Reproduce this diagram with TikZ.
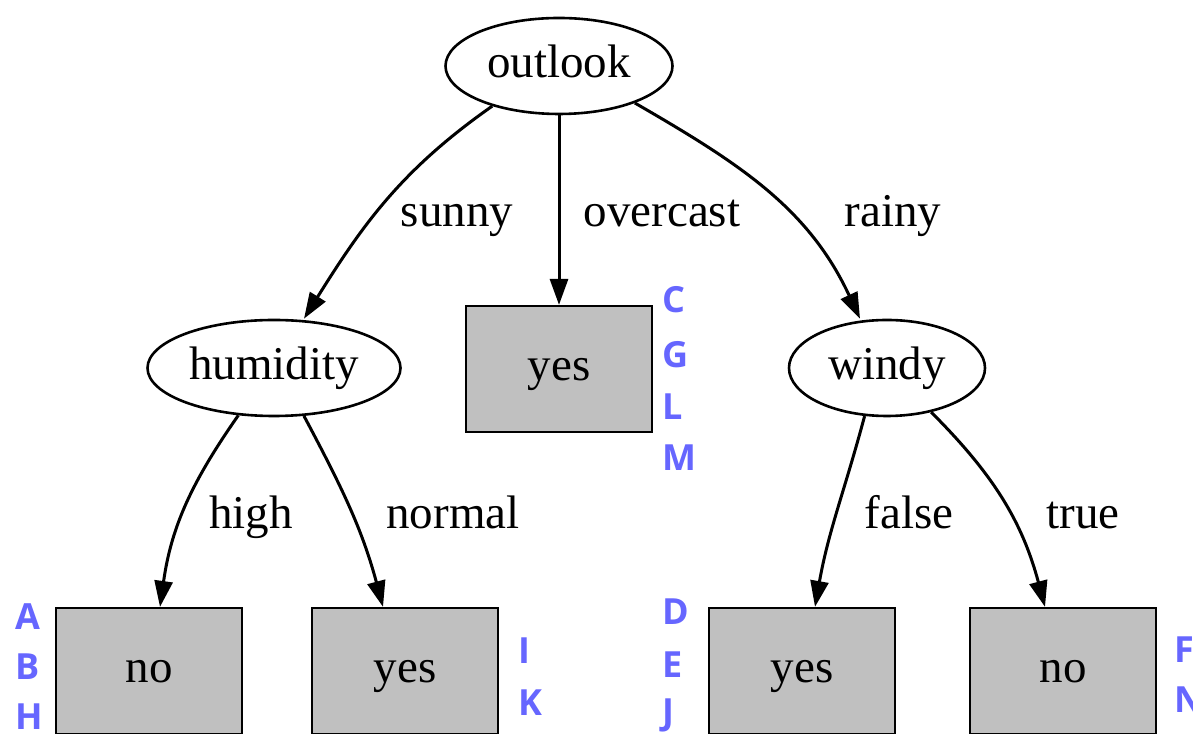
\documentclass[tikz,border=0pt]{standalone}
\usepackage{fontspec}
\setmainfont{Liberation Serif}
\newfontfamily\letterfont{Open Sans}
\usetikzlibrary{arrows.meta,shapes.geometric}
\definecolor{leafgray}{RGB}{192,192,192}
\definecolor{rowblue}{RGB}{102,102,255}

\begin{document}
\begin{tikzpicture}[
  x=0.5pt,
  y=0.5pt,
  >={Triangle[length=13pt,width=9pt]},
  every node/.style={font=\fontsize{23.5}{28}\selectfont},
  word/.style={text height=12pt, text depth=0pt},
  attr/.style={draw, ellipse, word, line width=1.3pt, inner sep=0pt, minimum height=48pt},
  leaf/.style={draw, rectangle, word, fill=leafgray, line width=1.1pt, minimum width=93pt, minimum height=63pt},
  branch/.style={->, line width=1.5pt},
  rows/.style={anchor=west, text=rowblue, font=\letterfont\bfseries\fontsize{18}{20}\selectfont}
]
\useasboundingbox (0,0) rectangle (1193,733);

\node[attr, minimum width=113.5pt] (outlook) at (559,667) {outlook};
\node[attr, minimum width=126.5pt] (humidity) at (274,365) {humidity};
\node[attr, minimum width=98pt] (windy) at (887,365) {windy};
\node[leaf] (overcastyes) at (559,364) {yes};
\node[leaf] (highno) at (149,62) {no};
\node[leaf] (normalyes) at (405,62) {yes};
\node[leaf] (falseyes) at (802,62) {yes};
\node[leaf] (trueno) at (1063,62) {no};

\draw[branch] (outlook.-149) to[out=215, in=58] ([xshift=15pt]humidity.north);
\draw[branch] (outlook.south) -- (overcastyes.north);
\draw[branch] (outlook.-26) to[out=-30, in=115] ([xshift=-13.5pt]windy.north);
\draw[branch] (humidity.-127) to[out=-125, in=82] ([xshift=5.5pt]highno.north);
\draw[branch] (humidity.-58) to[out=-62, in=105] ([xshift=-11pt]normalyes.north);
\draw[branch] (windy.-115) to[out=-105, in=80] ([xshift=6.5pt]falseyes.north);
\draw[branch] (windy.-45) to[out=-45, in=105] ([xshift=-9pt]trueno.north);

\node[word] (sunny) at (457,518) {sunny};
\node[word] (overcast) at (662,518) {overcast};
\node[word] (rainy) at (893,518) {rainy};
\node[word] (high) at (251,216) {high};
\node[word] (normal) at (453,216) {normal};
\node[word] (false) at (909,216) {false};
\node[word] (true) at (1083,216) {true};

\node[rows] (c) at (655,433) {C};
\node[rows] (g) at (655,378) {G};
\node[rows] (l) at (655,326) {L};
\node[rows] (m) at (655,275) {M};
\node[rows] (a) at (8,116) {A};
\node[rows] (b) at (8,66) {B};
\node[rows] (h) at (8,16) {H};
\node[rows] (i) at (511,82) {I};
\node[rows] (k) at (511,30) {K};
\node[rows] (d) at (655,121) {D};
\node[rows] (e) at (655,68) {E};
\node[rows] (j) at (655,18) {J};
\node[rows] (f) at (1167,83) {F};
\node[rows] (n) at (1167,33) {N};
\end{tikzpicture}
\end{document}
